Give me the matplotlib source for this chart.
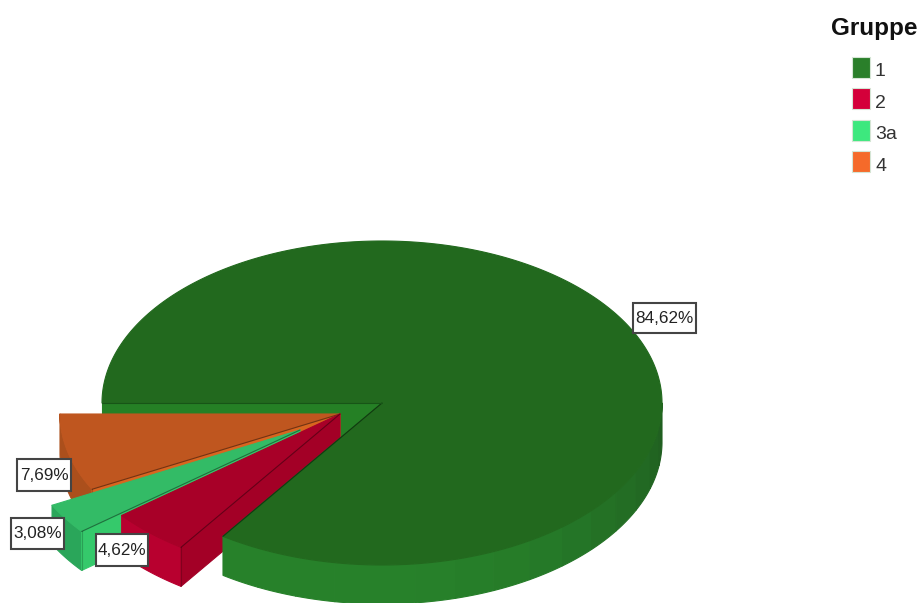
import numpy as np
import matplotlib
matplotlib.use("Agg")
import matplotlib.pyplot as plt
from matplotlib.patches import Polygon, Rectangle
from matplotlib.colors import to_rgb

groups = ["1", "2", "3a", "4"]
shares = [84.62, 4.62, 3.08, 7.69]
labels = ["84,62%", "4,62%", "3,08%", "7,69%"]

legend_colors = ["#2a7f2a", "#d4003a", "#3de87e", "#f56a2a"]
top_colors = ["#22691e", "#a80028", "#33bb66", "#bf561f"]
outer_colors = ["#267f26", "#b8002f", "#2aa65a", "#ab4f1c"]
cut_colors = ["#258025", "#a30026", "#35c96b", "#d8651f"]

FONT = ["Liberation Sans", "DejaVu Sans"]
CX, CY, RX, RY, DEPTH = 382, 403, 280, 162, 39
APEX = [(382, 403), (340, 414), (300, 430), (340, 414)]
LABEL_BOX = [(633, 303, 63, 30), (96, 534, 52, 32), (11, 518, 53, 31), (17, 459, 54, 32)]

fig = plt.figure(figsize=(9.23, 6.03), dpi=100, facecolor="white")
ax = fig.add_axes([0, 0, 1, 1])
ax.set_xlim(0, 923)
ax.set_ylim(603, 0)
ax.axis("off")


def rim(apex, a0, a1, dy=0):
    t = np.radians(np.linspace(a0, a1, max(3, int(abs(a1 - a0) * 2))))
    return np.column_stack([apex[0] + RX * np.cos(t), apex[1] - RY * np.sin(t) + dy])


def poly(pts, fc, z=1, lw=0.8):
    ax.add_patch(Polygon(pts, closed=True, fc=fc, ec=fc, lw=lw, joinstyle="round", zorder=z))


def seam(p, q, color, z):
    ax.plot([p[0], q[0]], [p[1], q[1]], color=color, lw=0.8, zorder=z, solid_capstyle="round")


# clockwise from 180 degrees, in data order
sweeps = np.array(shares) / sum(shares) * 360
edges = 180 - np.concatenate([[0], np.cumsum(sweeps)])
spans = [(edges[i], edges[i + 1]) for i in range(4)]


def wall(apex, angle):
    p = rim(apex, angle, angle)[0]
    return np.array([apex, p, (p[0], p[1] + DEPTH), (apex[0], apex[1] + DEPTH)])


def outer(apex, a0, a1):
    top = rim(apex, a0, a1)
    return np.vstack([top, (top + [0, DEPTH])[::-1]])


# wall of the big slice along its starting edge
poly(wall(APEX[0], spans[0][0]), cut_colors[0], z=1)

# exploded slices, back to front: 4, 3a, 2
for z, i in ((2, 3), (3, 2), (4, 1)):
    a_hi, a_lo = spans[i]
    apex = APEX[i]
    poly(outer(apex, a_lo, a_hi), outer_colors[i], z=z)
    poly(wall(apex, a_hi), cut_colors[i], z=z)
    rim_pts = rim(apex, a_lo, a_hi)
    poly(np.vstack([[apex], rim_pts]), top_colors[i], z=z)
    seam(apex, rim_pts[-1], "#00000066", z)
    seam(rim_pts[-1], rim_pts[-1] + [0, DEPTH], "#00000033", z)

# outer wall of the big slice, in facets shaded from front to right
a_stop = spans[0][1] % 360
facets = np.linspace(a_stop, 360, 16)
c_front = np.array(to_rgb("#27812a"))
c_side = np.array(to_rgb("#1f5c1f"))
for a0, a1 in zip(facets[:-1], facets[1:]):
    f = np.clip(((a0 + a1) / 2 - 275) / 85, 0, 1) ** 1.5
    poly(outer(APEX[0], a0, a1), c_front * (1 - f) + c_side * f, z=5)

# top face of the big slice
rim_pts = rim(APEX[0], spans[0][1], spans[0][0])
poly(np.vstack([[APEX[0]], rim_pts]), top_colors[0], z=6)
seam(APEX[0], rim_pts[0], "#103a10", 6)
seam(APEX[0], rim_pts[-1], "#175517", 6)

# value labels
for (x, y, w, h), s in zip(LABEL_BOX, labels):
    ax.add_patch(Rectangle((x, y), w, h, fc="white", ec="#444444", lw=1.5, zorder=7))
    ax.text(x + w / 2, y + h / 2 + 0.5, s, ha="center", va="center", fontsize=12.3,
            family=FONT, color="#222222", zorder=8)

# legend
ax.text(874, 28, "Gruppe", ha="center", va="center", fontsize=17.5, fontweight="bold",
        family=FONT, color="#111111")
for i, (g, c) in enumerate(zip(groups, legend_colors)):
    y = 57 + i * 31.4
    ax.add_patch(Rectangle((852, y), 18, 21, fc=c, ec="#d5e5d5", lw=0.8))
    ax.text(875, y + 15, g, ha="left", va="center", fontsize=14, family=FONT, color="#333333")

fig.savefig("out.png", dpi=100, facecolor="white")
